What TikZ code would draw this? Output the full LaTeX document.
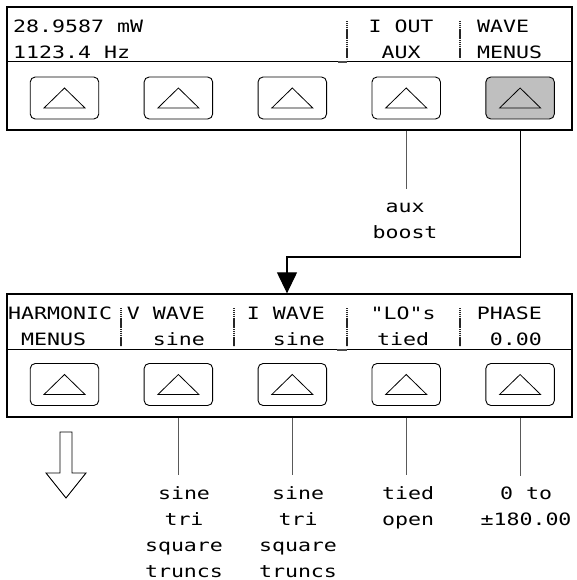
\documentclass[tikz,border=0pt]{standalone}
\usepackage{fontspec}
\newfontfamily\lcdfont{DejaVu Sans Mono}[FakeStretch=1.27]
\usetikzlibrary{arrows.meta,positioning}

\begin{document}
\begin{tikzpicture}[
    x=1pt, y=-1pt,
    node distance=44.5pt,
    panel/.style={draw, line width=1.3pt, minimum width=565pt, minimum height=123pt, inner sep=0pt},
    softkey/.style={draw, rounded corners=5pt, line width=0.9pt, minimum width=68.5pt, minimum height=42pt, inner sep=0pt,
      path picture={\draw[sharp corners, line width=0.8pt] ([yshift=-11pt]path picture bounding box.north) -- ++(-20.5pt,-20pt) -- ++(41pt,0pt) -- cycle;}},
    lcd/.style={font=\lcdfont\fontsize{17}{26}\selectfont, inner sep=0pt},
    bar/.style={draw=black!85, line width=2pt, dash pattern=on 1.4pt off 0.5pt},
    wire/.style={draw=black!65, line width=0.8pt},
    arrow/.style={-{Triangle[length=21pt,width=20pt]}, line width=1.2pt}
  ]
    \useasboundingbox (0,0) rectangle (576,580);

    % front panels
    \node[panel] (top) at (289.5,68.5) {};
    \node[panel] (bot) at (289.5,355.5) {};
    \draw[line width=1pt] ([yshift=-55pt]top.north west) -- ([yshift=-55pt]top.north east);
    \draw[line width=1pt] ([yshift=-56pt]bot.north west) -- ([yshift=-56pt]bot.north east);
    \draw[line width=1.8pt, black!70] (338,62) -- (347,62);
    \draw[line width=1.8pt, black!70] (337,350) -- (347,350);

    % softkeys
    \node[softkey] (t1) at (64.5,98) {};
    \node[softkey, right=of t1] (t2) {};
    \node[softkey, right=of t2] (t3) {};
    \node[softkey, right=of t3] (t4) {};
    \node[softkey, right=of t4, fill=black!25] (t5) {};
    \node[softkey] (b1) at (64.5,384.5) {};
    \node[softkey, right=of b1] (b2) {};
    \node[softkey, right=of b2] (b3) {};
    \node[softkey, right=of b3] (b4) {};
    \node[softkey, right=of b4] (b5) {};

    % display texts
    \node[lcd, anchor=north west, align=left] (reading) at (13,19.5) {28.9587 mW\\1123.4 Hz};
    \node[lcd, anchor=north, align=center] (iout) at (401,19.5) {I OUT\\AUX};
    \node[lcd, anchor=north west, align=left] (wave) at (477,19.5) {WAVE\\MENUS};
    \node[lcd, anchor=north west, align=left] (harm) at (8,306.5) {HARMONIC\\~MENUS};
    \node[lcd, anchor=north east, align=right] (vwave) at (205,306.5) {V WAVE\\sine};
    \node[lcd, anchor=north east, align=right] (iwave) at (325,306.5) {I WAVE\\sine};
    \node[lcd, anchor=north, align=center] (lo) at (403,306.5) {"LO"s\\tied};
    \node[lcd, anchor=north east, align=right] (phase) at (542,306.5) {PHASE\\0.00};
    \draw[bar] (347,21) -- (347,59);
    \draw[bar] (460,21) -- (460,59);
    \draw[bar] (121,308) -- (121,346);
    \draw[bar] (234,308) -- (234,346);
    \draw[bar] (347,308) -- (347,346);
    \draw[bar] (460,308) -- (460,346);

    % choices
    \node[lcd, anchor=north, align=center] (boost) at (405,203) {aux\\boost};
    \node[lcd, anchor=north, align=center] (vopts) at (184,486) {sine\\tri\\square\\truncs};
    \node[lcd, anchor=north, align=center] (iopts) at (298,486) {sine\\tri\\square\\truncs};
    \node[lcd, anchor=north, align=center] (lopts) at (408,486) {tied\\open};
    \node[lcd, anchor=north, align=center] (popts) at (526,487) {0 to\\±180.00};

    \draw[wire, shorten >=14pt] (t4 |- top.south) -- (t4 |- boost.north);
    \draw[wire, shorten >=11pt] (b2 |- bot.south) -- (b2 |- vopts.north);
    \draw[wire, shorten >=11pt] (b3 |- bot.south) -- (b3 |- iopts.north);
    \draw[wire, shorten >=11pt] (b4 |- bot.south) -- (b4 |- lopts.north);
    \draw[wire, shorten >=11pt] (b5 |- bot.south) -- (b5 |- popts.north);

    % into the wave menu
    \coordinate (turn) at (287,257);
    \draw[arrow] (t5 |- top.south) |- (turn) -- (turn |- bot.north);

    % more menus below
    \coordinate (more) at (66,432);
    \draw[line width=0.9pt] ([xshift=-6pt]more) -- ++(0,41) -- ++(-14,0) -- ++(20,25) -- ++(20,-25) -- ++(-14,0) -- ++(0,-41) -- cycle;
  \end{tikzpicture}
\end{document}
